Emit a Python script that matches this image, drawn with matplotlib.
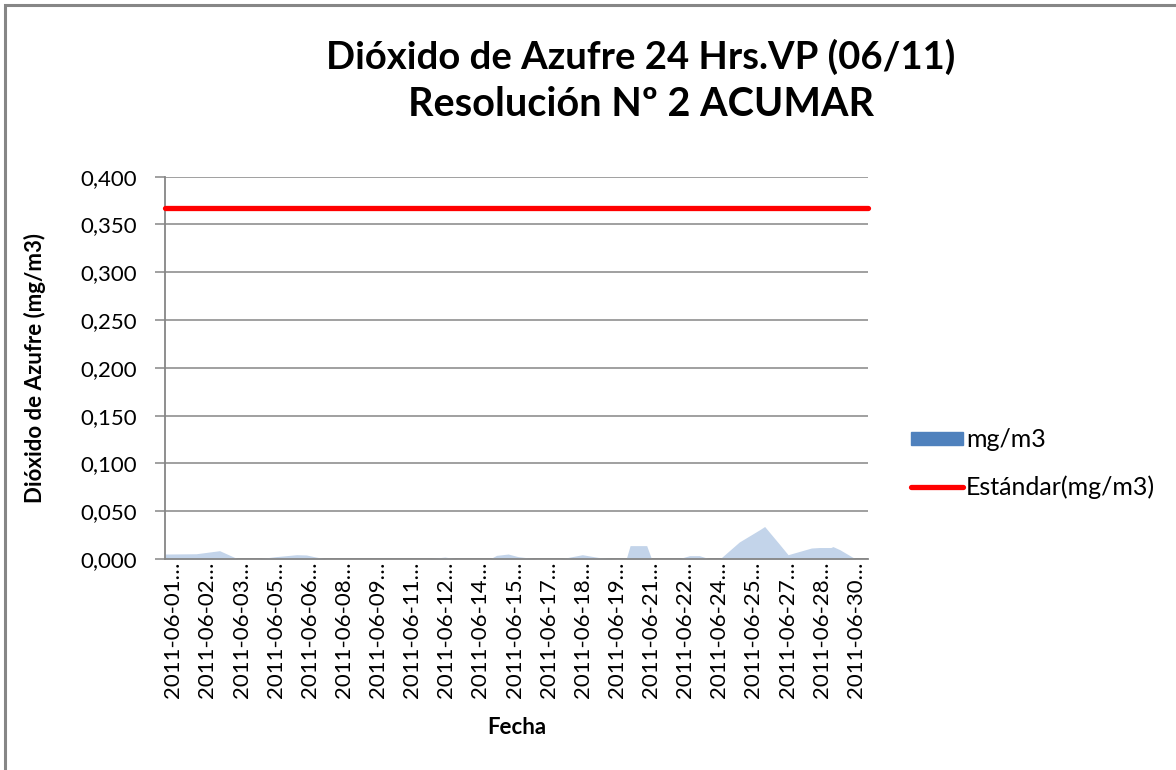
import matplotlib
matplotlib.use("Agg")
import matplotlib.pyplot as plt
from matplotlib.patches import Rectangle
from matplotlib.ticker import FuncFormatter, MultipleLocator

plt.rcParams['font.family'] = ['Lato', 'DejaVu Sans']

# Hourly 24h SO2 series, vertices (hour from start, mg/m3)
hours = [0, 32, 56, 75, 94, 114, 135, 145, 155, 166, 268, 287, 301, 333, 340,
         352, 362, 382, 405, 428, 444, 463, 473, 477, 494, 499, 526, 538, 548,
         559, 569, 589, 610, 615, 630, 639, 651, 663, 671, 683, 685, 692, 705, 709]
so2 = [0.0052, 0.0055, 0.0087, 0.0, 0.0, 0.0025, 0.0045, 0.0042, 0.002, 0.0,
       0.0, 0.002, 0.0, 0.0, 0.0038, 0.0052, 0.0025, 0.0, 0.0, 0.0045, 0.0017,
       0.0, 0.0, 0.014, 0.014, 0.0, 0.0, 0.0035, 0.0035, 0.0, 0.0, 0.0178,
       0.0307, 0.034, 0.0157, 0.0045, 0.008, 0.0115, 0.012, 0.012, 0.013,
       0.0098, 0.002, 0.0]
standard = 0.367
n_hours = 721

tick_labels = ["2011-06-01", "2011-06-02", "2011-06-03", "2011-06-05", "2011-06-06",
               "2011-06-08", "2011-06-09", "2011-06-11", "2011-06-12", "2011-06-14",
               "2011-06-15", "2011-06-17", "2011-06-18", "2011-06-19", "2011-06-21",
               "2011-06-22", "2011-06-24", "2011-06-25", "2011-06-27", "2011-06-28",
               "2011-06-30"]
tick_pos = [8.5 + 35 * i for i in range(len(tick_labels))]

fig = plt.figure(figsize=(11.76, 7.70), dpi=100)
fig.patches.append(Rectangle((5 / 1176, -0.01), 1.02, 1 - 5 / 770 + 0.01,
                             transform=fig.transFigure, fill=False,
                             edgecolor="#868686", linewidth=2.2))

ax = fig.add_axes([165 / 1176, 1 - 559 / 770, 703 / 1176, 382.3 / 770])

ax.fill_between(hours, so2, 0, color="#c3d4ea", linewidth=0, zorder=2)
ax.fill_between([], [], color="#4f81bd", label="mg/m3")
ax.plot([0, n_hours], [standard, standard], color="#ff0000", linewidth=3.8,
        solid_capstyle="round", label="Estándar(mg/m3)", zorder=3, clip_on=False)

ax.set_xlim(0, n_hours)
ax.set_ylim(0, 0.4)
ax.yaxis.set_major_locator(MultipleLocator(0.05))
ax.yaxis.set_major_formatter(FuncFormatter(lambda v, p: f"{v:.3f}".replace(".", ",")))
ax.grid(axis="y", color="#868686", linewidth=1.1, zorder=1)
ax.set_axisbelow(True)

for s in ["top", "right"]:
    ax.spines[s].set_visible(False)
for s in ["left", "bottom"]:
    ax.spines[s].set_color("#868686")
    ax.spines[s].set_linewidth(1.3)

ax.set_xticks(tick_pos)
ax.set_xticklabels([t + "…" for t in tick_labels], rotation=90, fontsize=16)
ax.tick_params(axis="x", length=0, pad=2)
ax.tick_params(axis="y", length=7, color="#868686", width=1.1, labelsize=16, pad=13)

ax.set_xlabel("Fecha", fontsize=16, fontweight="bold", va="center")
ax.xaxis.set_label_coords(0.5, (559 - 728) / 382.3)
ax.set_ylabel("Dióxido de Azufre (mg/m3)", fontsize=16, fontweight="bold", va="center")
ax.yaxis.set_label_coords((35 - 165) / 703, 0.5)

fig.text(0.545, 0.926, "Dióxido de Azufre 24 Hrs.VP (06/11)", ha="center", va="center",
         fontsize=27.5, fontweight="bold")
fig.text(0.545, 0.864, "Resolución Nº 2 ACUMAR", ha="center", va="center",
         fontsize=28.5, fontweight="bold")

ax.legend(loc="center left", bbox_to_anchor=(1.029, 0.25), frameon=False, fontsize=18,
          handlelength=2.1, handleheight=0.45, handletextpad=0.1, labelspacing=0.95)

fig.savefig("out.png", dpi=100)
